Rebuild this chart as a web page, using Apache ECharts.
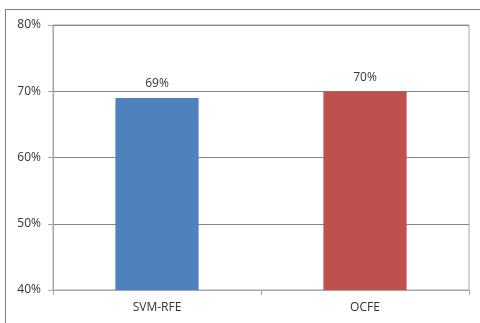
<!DOCTYPE html>
<html><head><meta charset="utf-8">
<script src="https://cdn.jsdelivr.net/npm/echarts@6/dist/echarts.min.js"></script>
<style>
html,body{margin:0;padding:0;background:#fff;overflow:hidden;}
#c{position:absolute;left:0;top:0;width:480px;height:323px;}
#b{position:absolute;left:5px;top:9px;width:600px;height:400px;border:1px solid #7f7f7f;pointer-events:none;}
</style></head>
<body>
<div id="b"></div>
<div id="c"></div>
<script>
const categories = ['SVM-RFE', 'OCFE'];
const values = [69, 70];
const colors = ['#4F81BD', '#C0504D'];
const yTicks = [40, 50, 60, 70, 80];

const chart = echarts.init(document.getElementById('c'));
chart.setOption({
  animation: false,
  grid: {left: 53, right: 11, top: 25, bottom: 33, show: true, borderColor: '#a6a6a6', borderWidth: 1},
  xAxis: {
    type: 'category', data: categories,
    axisLine: {lineStyle: {color: '#a6a6a6'}},
    axisTick: {show: true, alignWithLabel: false, length: 5, lineStyle: {color: '#a6a6a6'}},
    axisLabel: {color: '#333333', fontSize: 12, fontFamily: 'Open Sans', margin: 12}
  },
  yAxis: {
    type: 'value', min: yTicks[0], max: yTicks[yTicks.length - 1], interval: 10,
    axisLine: {show: true, lineStyle: {color: '#a6a6a6'}},
    axisTick: {show: true, length: 5, lineStyle: {color: '#a6a6a6'}},
    splitLine: {lineStyle: {color: '#868686'}},
    axisLabel: {color: '#333333', fontSize: 12, fontFamily: 'Open Sans', margin: 12, formatter: v => v + '%'}
  },
  series: [{
    type: 'bar', barWidth: '40%',
    data: values.map((v, i) => ({value: v, itemStyle: {color: colors[i]}})),
    label: {show: true, position: 'top', distance: 8, color: '#333333', fontSize: 12, fontFamily: 'Open Sans', formatter: p => p.value + '%'}
  }]
});
</script>
</body></html>
